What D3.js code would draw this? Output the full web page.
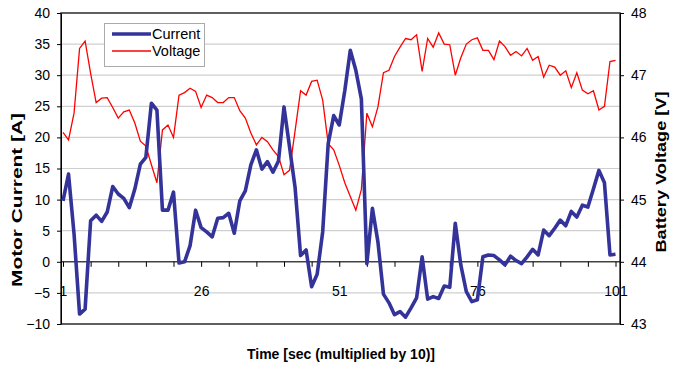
<!DOCTYPE html>
<html>
<head>
<meta charset="utf-8">
<script src="https://cdn.jsdelivr.net/npm/d3@7"></script>
<style>
  body { margin: 0; background: #fff; }
  svg text { font-family: "Liberation Sans", Arial, sans-serif; fill: #000; }
</style>
</head>
<body>
<div id="chart"></div>
<script>
// data, one point per time step (1..101)
var current = [
  9.8, 14.1, 4.5, -8.4, -7.6, 6.6, 7.5, 6.5, 8.0, 12.1,
  10.9, 10.2, 8.7, 11.7, 15.7, 16.8, 25.5, 24.4, 8.3, 8.3,
  11.2, -0.2, 0.0, 2.6, 8.3, 5.5, 4.8, 4.0, 7.0, 7.1,
  7.8, 4.6, 9.8, 11.4, 15.6, 18.0, 14.9, 16.1, 14.4, 16.2,
  24.9, 18.5, 12.0, 1.0, 1.9, -4.0, -2.0, 4.8, 19.0, 23.5,
  22.0, 27.5, 34.0, 30.8, 26.2, -0.3, 8.6, 3.2, -5.2, -6.6,
  -8.5, -8.0, -8.9, -7.4, -5.8, 0.8, -6.0, -5.6, -5.9, -3.9,
  -4.1, 6.2, -0.5, -4.8, -6.4, -6.1, 0.8, 1.1, 1.0, 0.3,
  -0.5, 0.9, 0.2, -0.3, 0.8, 2.0, 1.1, 5.1, 4.2, 5.4,
  6.7, 5.8, 8.1, 7.2, 9.1, 8.8, 11.7, 14.7, 12.7, 1.1,
  1.2
];

var voltage = [
  46.08, 45.96, 46.39, 47.43, 47.55, 47.03, 46.56, 46.63, 46.64, 46.48,
  46.31, 46.41, 46.44, 46.23, 45.94, 45.86, 45.56, 45.27, 46.12, 46.20,
  46.00, 46.68, 46.72, 46.79, 46.74, 46.48, 46.68, 46.64, 46.56, 46.56,
  46.64, 46.64, 46.43, 46.31, 46.07, 45.88, 46.00, 45.93, 45.80, 45.69,
  45.40, 45.47, 46.10, 46.75, 46.68, 46.90, 46.92, 46.60, 45.90, 45.80,
  45.55, 45.27, 45.05, 44.83, 45.16, 46.39, 46.17, 46.49, 47.04, 47.08,
  47.30, 47.45, 47.59, 47.57, 47.65, 47.06, 47.59, 47.45, 47.68, 47.50,
  47.49, 47.00, 47.28, 47.50, 47.57, 47.60, 47.40, 47.40, 47.25, 47.55,
  47.46, 47.32, 47.38, 47.31, 47.43, 47.24, 47.30, 46.97, 47.16, 47.13,
  47.00, 47.07, 46.80, 47.04, 46.76, 46.70, 46.75, 46.44, 46.50, 47.22,
  47.24
];

var xTickLabels = ["1", "26", "51", "76", "101"];
var currentTicks = [-10, -5, 0, 5, 10, 15, 20, 25, 30, 35, 40];
var voltageTicks = [43, 44, 45, 46, 47, 48];

var svgWidth = 675;
var svgHeight = 369;
var plotLeft = 61, plotRight = 620, plotTop = 13, plotBottom = 324;

var svg = d3.select('#chart')
            .append('svg')
            .attr('width', svgWidth)
            .attr('height', svgHeight);

var xScale = d3.scaleLinear()
    .domain([1, current.length])
    .range([63, 615.5]);

var yLeft = d3.scaleLinear()
    .domain([-10, 40])
    .range([plotBottom, plotTop]);

var yRight = d3.scaleLinear()
    .domain([43, 48])
    .range([plotBottom, plotTop]);

// gridlines
svg.append('g')
    .selectAll('line')
    .data(currentTicks)
    .join('line')
    .attr('x1', plotLeft)
    .attr('x2', plotRight)
    .attr('y1', d => yLeft(d))
    .attr('y2', d => yLeft(d))
    .attr('stroke', '#cfcfcf')
    .attr('stroke-width', 1.2);

// plot frame
svg.append('rect')
    .attr('x', plotLeft)
    .attr('y', plotTop)
    .attr('width', plotRight - plotLeft)
    .attr('height', plotBottom - plotTop)
    .attr('fill', 'none')
    .attr('stroke', '#333')
    .attr('stroke-width', 1.5);

// left axis
var leftAxis = svg.append('g')
    .attr('transform', 'translate(' + plotLeft + ',0)')
    .call(d3.axisLeft(yLeft).tickValues(currentTicks).tickSize(4).tickSizeOuter(0).tickPadding(7));

// right axis
var rightAxis = svg.append('g')
    .attr('transform', 'translate(' + plotRight + ',0)')
    .call(d3.axisRight(yRight).tickValues(voltageTicks).tickFormat(d3.format('d'))
        .tickSize(4).tickSizeOuter(0).tickPadding(7));

// category axis on the zero line
var xAxis = svg.append('g')
    .attr('transform', 'translate(0,' + yLeft(0) + ')')
    .call(d3.axisBottom(xScale)
        .tickValues(d3.range(1, current.length + 1, 5))
        .tickSize(5)
        .tickSizeOuter(0)
        .tickPadding(19)
        .tickFormat(d => xTickLabels.includes(String(d)) ? String(d) : ''));

xAxis.select('.domain').attr('d', 'M' + plotLeft + ',0H' + plotRight);

[leftAxis, rightAxis, xAxis].forEach(function (g) {
    g.selectAll('text').style('font-size', '14px').attr('fill', '#000');
    g.selectAll('line').attr('stroke', '#000');
    g.select('.domain').attr('stroke', '#000');
});

// lines
var voltageLine = d3.line()
    .x((d, i) => xScale(i + 1))
    .y(d => yRight(d));

var currentLine = d3.line()
    .x((d, i) => xScale(i + 1))
    .y(d => yLeft(d));

svg.append('path')
    .datum(voltage)
    .attr('d', voltageLine)
    .attr('fill', 'none')
    .attr('stroke', '#ff0000')
    .attr('stroke-width', 1.3);

svg.append('path')
    .datum(current)
    .attr('d', currentLine)
    .attr('fill', 'none')
    .attr('stroke', '#333399')
    .attr('stroke-width', 3.6)
    .attr('stroke-linejoin', 'round');

// legend
var legend = svg.append('g');

legend.append('rect')
    .attr('x', 104.5)
    .attr('y', 23.5)
    .attr('width', 100)
    .attr('height', 43)
    .attr('fill', '#fff')
    .attr('stroke', '#aaa');

legend.append('line')
    .attr('x1', 112).attr('x2', 151)
    .attr('y1', 34).attr('y2', 34)
    .attr('stroke', '#333399')
    .attr('stroke-width', 3.6);

legend.append('line')
    .attr('x1', 112).attr('x2', 151)
    .attr('y1', 51).attr('y2', 51)
    .attr('stroke', '#ff0000')
    .attr('stroke-width', 1.3);

legend.append('text')
    .attr('x', 152).attr('y', 39)
    .style('font-size', '14.5px')
    .text('Current');

legend.append('text')
    .attr('x', 152).attr('y', 56)
    .style('font-size', '14.5px')
    .text('Voltage');

// axis titles
svg.append('text')
    .attr('x', 341)
    .attr('y', 359)
    .style('text-anchor', 'middle')
    .style('font-size', '14px')
    .style('font-weight', 'bold')
    .text('Time [sec (multiplied by 10)]');

svg.append('text')
    .attr('transform', 'translate(22,200) rotate(-90)')
    .style('text-anchor', 'middle')
    .style('font-size', '15px')
    .style('font-weight', 'bold')
    .attr('textLength', 174)
    .attr('lengthAdjust', 'spacingAndGlyphs')
    .text('Motor Current [A]');

svg.append('text')
    .attr('transform', 'translate(666,172) rotate(-90)')
    .style('text-anchor', 'middle')
    .style('font-size', '15px')
    .style('font-weight', 'bold')
    .attr('textLength', 161)
    .attr('lengthAdjust', 'spacingAndGlyphs')
    .text('Battery Voltage [V]');
</script>
</body>
</html>
